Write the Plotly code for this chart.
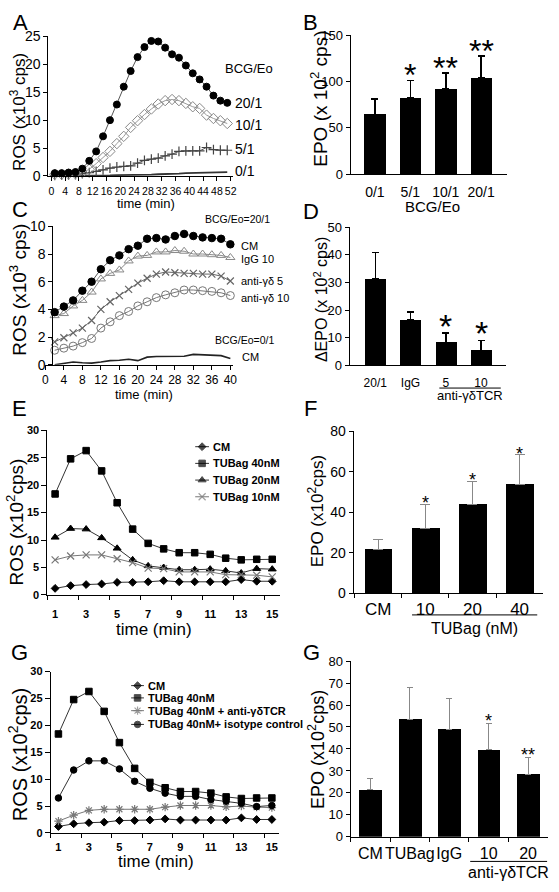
import plotly.graph_objects as go

W, H = 559, 892
ARIAL = "Liberation Sans, Arial, Helvetica, sans-serif"
NARROW = "Liberation Sans Narrow, Arial Narrow, Liberation Sans, sans-serif"

# ---------------- Panel A : ROS kinetics, BCG/Eo ratios ----------------
a_time = [1, 3, 5, 7, 9, 11, 13, 15, 17, 19, 21, 23, 25, 27, 29, 31, 33, 35, 37, 39, 41, 43, 45, 47, 49, 51]
a_ratio_20 = [0.5, 0.5, 0.6, 0.7, 1.3, 2.7, 4.4, 7.1, 10.0, 12.8, 16.0, 18.8, 21.3, 23.1, 24.2, 24.1,
              23.0, 21.8, 21.2, 19.8, 18.4, 17.3, 16.0, 14.4, 13.5, 13.1]
a_ratio_10 = [0.3, 0.3, 0.35, 0.4, 0.6, 1.2, 2.2, 3.3, 4.4, 5.8, 7.1, 8.7, 9.9, 11.0, 12.0, 12.9,
              13.5, 13.7, 13.5, 13.0, 12.4, 12.1, 10.9, 10.3, 9.9, 9.4]
a_ratio_5 = [0.1, 0.15, 0.2, 0.25, 0.4, 0.6, 0.8, 1.1, 1.4, 1.6, 1.7, 1.8, 2.3, 2.8, 3.0, 3.2,
             3.6, 3.9, 4.4, 4.5, 4.5, 4.5, 5.1, 4.7, 4.6, 4.6]
a_ratio_0 = [0.0, 0.0, 0.0, 0.0, 0.0, 0.0, 0.05, 0.1, 0.1, 0.15, 0.15, 0.2, 0.2, 0.25, 0.25, 0.3,
             0.3, 0.35, 0.4, 0.5, 0.55, 0.6, 0.6, 0.65, 0.7, 0.7]
a_labels = ["20/1", "10/1", "5/1", "0/1"]
a_xticks = [0, 4, 8, 12, 16, 20, 24, 28, 32, 36, 40, 44, 48, 52]
a_yticks = [0, 5, 10, 15, 20, 25]

# ---------------- Panel B : EPO vs BCG/Eo ----------------
b_cats = ["0/1", "5/1", "10/1", "20/1"]
b_vals = [64.6, 82.2, 91.8, 104.1]
b_err = [16.6, 19.1, 17.6, 23.7]
b_stars = ["", "*", "**", "**"]
b_yticks = [0, 50, 100, 150]

# ---------------- Panel C : ROS with anti-gd TCR ----------------
c_time = [2, 4, 6, 8, 10, 12, 14, 16, 18, 20, 22, 24, 26, 28, 30, 32, 34, 36, 38, 40]
c_cm = [3.8, 4.2, 4.65, 5.35, 6.0, 6.9, 7.55, 7.9, 8.35, 8.6, 9.1, 9.15, 9.05, 9.3, 9.45, 9.3, 9.2, 9.15, 9.1, 8.7]
c_igg = [3.55, 3.7, 4.25, 4.65, 5.25, 6.2, 6.6, 6.85, 7.5, 7.85, 7.9, 8.15, 8.15, 8.25, 8.2, 8.0, 8.0, 7.95, 7.9, 7.75]
c_anti5 = [1.65, 1.95, 2.3, 2.65, 3.2, 4.0, 4.55, 5.0, 5.45, 5.9, 6.25, 6.55, 6.7, 6.65, 6.6, 6.6, 6.55, 6.55, 6.4, 6.05]
c_anti10 = [1.05, 1.2, 1.35, 1.6, 1.9, 2.65, 3.1, 3.55, 3.85, 4.25, 4.55, 4.85, 5.05, 5.2, 5.4, 5.4, 5.35, 5.3, 5.2, 5.0]
c_cm0 = [0.0, 0.1, 0.2, 0.15, 0.12, 0.2, 0.3, 0.33, 0.4, 0.3, 0.55, 0.6, 0.6, 0.6, 0.62, 0.75, 0.72, 0.66, 0.66, 0.45]
c_labels = ["CM", "IgG 10", "anti-\u03b3\u03b4 5", "anti-\u03b3\u03b4 10", "CM"]
c_xticks = [0, 4, 8, 12, 16, 20, 24, 28, 32, 36, 40]
c_yticks = [0, 2, 4, 6, 8, 10]

# ---------------- Panel D : delta EPO ----------------
d_cats = ["20/1", "IgG", "5", "10"]
d_vals = [31.3, 16.4, 8.3, 5.4]
d_err = [9.5, 3.0, 3.5, 3.7]
d_stars = ["", "", "*", "*"]
d_yticks = [0, 10, 20, 30, 40, 50]

# ---------------- Panel E : ROS with TUBag ----------------
e_time = [1, 2, 3, 4, 5, 6, 7, 8, 9, 10, 11, 12, 13, 14, 15]
e_cm = [1.2, 1.7, 1.9, 2.0, 2.3, 2.3, 2.4, 2.6, 2.4, 2.4, 2.4, 2.4, 2.8, 2.5, 2.5]
e_tub40 = [18.4, 24.8, 26.3, 22.6, 16.8, 12.0, 9.4, 8.4, 7.7, 7.7, 7.4, 6.7, 6.4, 6.5, 6.5]
e_tub20 = [10.5, 12.1, 12.0, 10.4, 8.5, 6.4, 5.3, 5.0, 4.6, 4.6, 4.7, 4.4, 4.0, 4.8, 4.7]
e_tub10 = [6.4, 7.1, 7.3, 7.3, 6.6, 5.9, 4.9, 4.8, 4.2, 4.2, 4.2, 3.7, 3.7, 3.6, 3.3]
e_names = ["CM", "TUBag 40nM", "TUBag 20nM", "TUBag 10nM"]
e_xticks = [1, 3, 5, 7, 9, 11, 13, 15]
e_yticks = [0, 5, 10, 15, 20, 25, 30]

# ---------------- Panel F : EPO with TUBag ----------------
f_cats = ["CM", "10", "20", "40"]
f_vals = [21.5, 32.0, 43.9, 53.6]
f_err = [5.3, 11.9, 11.5, 14.7]
f_stars = ["", "*", "*", "*"]
f_yticks = [0, 20, 40, 60, 80]

# ---------------- Panel G (left) : ROS, TUBag + antibodies ----------------
g_time = [1, 2, 3, 4, 5, 6, 7, 8, 9, 10, 11, 12, 13, 14, 15]
g_cm = [1.2, 1.7, 1.9, 2.0, 2.3, 2.3, 2.4, 2.6, 2.4, 2.4, 2.4, 2.4, 2.8, 2.5, 2.5]
g_tub40 = [18.4, 24.8, 26.3, 22.6, 16.8, 12.0, 9.4, 8.4, 7.7, 7.7, 7.4, 6.7, 6.4, 6.5, 6.5]
g_anti = [2.2, 3.3, 4.2, 4.4, 4.4, 4.4, 4.4, 4.8, 5.1, 5.1, 5.1, 4.85, 5.0, 4.8, 4.7]
g_iso = [6.5, 11.7, 13.4, 13.4, 11.9, 9.6, 8.3, 7.4, 6.8, 6.8, 6.2, 5.9, 5.5, 4.9, 5.1]
g_names = ["CM", "TUBag 40nM", "TUBag 40nM + anti-\u03b3\u03b4TCR", "TUBag 40nM+ isotype control"]

# ---------------- Panel G (right) : EPO, TUBag + antibodies ----------------
h_cats = ["CM", "TUBag", "IgG", "10", "20"]
h_vals = [21.5, 53.5, 49.0, 39.6, 28.6]
h_err = [5.2, 14.3, 13.9, 11.8, 7.5]
h_stars = ["", "", "", "*", "**"]
h_yticks = [0, 10, 20, 30, 40, 50, 60, 70, 80]


def fx(p):
    return p / W


def fy(p):
    return 1 - p / H


fig = go.Figure()


def ax_kw(**kw):
    d = dict(showline=True, linecolor="black", linewidth=1, showgrid=False, zeroline=False,
             ticks="outside", ticklen=4, tickcolor="black", tickwidth=1, fixedrange=True,
             tickangle=0)
    d.update(kw)
    return d


def series(x, y, ax, color="#444", lw=1, symbol=None, size=7, mcolor="black", mlw=1):
    mode = "lines" if symbol is None else "lines+markers"
    marker = None
    if symbol is not None:
        marker = dict(symbol=symbol, size=size, color=mcolor, line=dict(color=mcolor, width=mlw))
    fig.add_trace(go.Scatter(x=x, y=y, mode=mode, line=dict(color=color, width=lw),
                             marker=marker, xaxis="x" + ax, yaxis="y" + ax,
                             showlegend=False, cliponaxis=False, hoverinfo="skip"))


def bars(cats, vals, errs, ax, width, ecol, eth, ew):
    fig.add_trace(go.Bar(x=cats, y=vals, width=width,
                         marker=dict(color="black", line=dict(width=0)),
                         error_y=dict(type="data", symmetric=False, array=errs,
                                      arrayminus=[0] * len(errs), color=ecol,
                                      thickness=eth, width=ew),
                         xaxis="x" + ax, yaxis="y" + ax, showlegend=False, hoverinfo="skip"))


# ---- A traces
series(a_time, a_ratio_0, "", color="#333", lw=1.8)
series(a_time, a_ratio_5, "", color="#555", lw=1, symbol="cross-thin-open", size=7, mcolor="#444", mlw=1.2)
series(a_time, a_ratio_10, "", color="#999", lw=1, symbol="diamond-open", size=8, mcolor="#888", mlw=1)
series(a_time, a_ratio_20, "", color="#555", lw=1, symbol="circle", size=7, mcolor="black")

# ---- B
bars(b_cats, b_vals, b_err, "2", 0.61, "black", 1.5, 3.5)

# ---- C
series(c_time, c_cm0, "3", color="#222", lw=1.6)
series(c_time, c_anti10, "3", color="#777", lw=1, symbol="circle-open", size=8, mcolor="#777", mlw=1)
series(c_time, c_anti5, "3", color="#666", lw=1, symbol="x-thin-open", size=7, mcolor="#666", mlw=1.2)
series(c_time, c_igg, "3", color="#888", lw=1, symbol="triangle-up-open", size=8, mcolor="#888", mlw=1)
series(c_time, c_cm, "3", color="#555", lw=1, symbol="circle", size=7.5, mcolor="black")

# ---- D
bars(d_cats, d_vals, d_err, "4", 0.6, "black", 1.5, 3.5)

# ---- E
e_styles = [dict(symbol="diamond", size=6, mcolor="black", color="#333"),
            dict(symbol="square", size=6.5, mcolor="black", color="#333"),
            dict(symbol="triangle-up", size=7, mcolor="black", color="#333"),
            dict(symbol="x-thin-open", size=7, mcolor="#777", color="#777", mlw=1.2)]
for ys, st in zip([e_cm, e_tub40, e_tub20, e_tub10], e_styles):
    series(e_time, ys, "5", lw=1, **st)

# ---- F
bars(f_cats, f_vals, f_err, "6", 0.59, "#888", 1, 5)

# ---- G left
g_styles = [dict(symbol="diamond", size=6, mcolor="black", color="#333"),
            dict(symbol="square", size=6.5, mcolor="black", color="#333"),
            dict(symbol="asterisk-open", size=7, mcolor="#777", color="#777", mlw=1.2),
            dict(symbol="circle", size=6.5, mcolor="black", color="#333")]
for ys, st in zip([g_cm, g_tub40, g_anti, g_iso], g_styles):
    series(g_time, ys, "7", lw=1, **st)

# ---- G right
bars(h_cats, h_vals, h_err, "8", 0.58, "#888", 1, 3)


# ---- legend keys drawn on a pixel overlay (x9/y9)
def legend_keys(styles, x0, x1, ys):
    for st, yy in zip(styles, ys):
        fig.add_trace(go.Scatter(
            x=[x0, (x0 + x1) / 2, x1], y=[yy, yy, yy], mode="lines+markers",
            line=dict(color=st["color"], width=1),
            marker=dict(symbol=st["symbol"], size=[0, st["size"], 0], color=st["mcolor"],
                        line=dict(color=st["mcolor"], width=st.get("mlw", 1))),
            xaxis="x9", yaxis="y9", showlegend=False, hoverinfo="skip", cliponaxis=False))


e_leg_y = [446.7, 463.7, 480.7, 497.7]
g_leg_y = [690, 702.5, 715.5, 729.5]
legend_keys(e_styles, 195, 209, e_leg_y)
legend_keys(g_styles, 130, 143, g_leg_y)

ann = []


def text(t, x, y, size, xa="center", ya="middle", angle=0, family=ARIAL, weight="normal",
         xref="paper", yref="paper", yshift=0):
    ann.append(dict(text=t, x=x, y=y, xref=xref, yref=yref, xanchor=xa, yanchor=ya,
                    textangle=angle, showarrow=False, yshift=yshift,
                    font=dict(family=family, size=size, color="black", weight=weight)))


def ptext(t, px_, py_, size, **kw):
    text(t, fx(px_), fy(py_), size, **kw)


# panel letters
for letter, lx, ly in [("A", 18, 15), ("B", 312, 15), ("C", 17, 205), ("D", 312, 207),
                       ("E", 17, 408), ("F", 312, 408), ("G", 17, 656), ("G", 313, 656)]:
    ptext(letter, lx, ly, 22)

# axis titles
ptext("ROS (x10<sup>3</sup> cps)", 15, 106, 17, angle=-90)
ptext("time (min)", 145, 199, 13)
ptext("EPO (x 10<sup>2</sup> cps)", 321, 92, 19, angle=-90)
ptext("BCG/Eo", 436, 202, 15)
ptext("ROS (x10<sup>3</sup> cps)", 15, 287, 19, angle=-90)
ptext("time (min)", 143, 394, 13)
ptext("\u0394EPO (x 10<sup>2</sup> cps)", 322, 297, 16, angle=-90)
ptext("anti-\u03b3\u03b4TCR", 474, 395, 13)
ptext("ROS (x10<sup>2</sup>cps)", 12, 523, 19, angle=-90)
ptext("time (min)", 153, 633, 17)
ptext("EPO (x10<sup>2</sup>cps)", 317, 512, 17, angle=-90)
ptext("TUBag (nM)", 478, 632, 16)
ptext("ROS (x10<sup>2</sup>cps)", 15, 760, 20, angle=-90)
ptext("time (min)", 155, 869, 17)
ptext("EPO (x10<sup>2</sup>cps)", 318, 755, 18, angle=-90)
ptext("anti-\u03b3\u03b4TCR", 513, 880, 16)

# series labels, panel A
ptext("BCG/Eo", 223, 62, 13, xa="left", family=NARROW)
for lab, ly in zip(a_labels, [97, 119, 144, 166]):
    ptext(lab, 233, ly, 14, xa="left")

# series labels, panel C
ptext("BCG/Eo=20/1", 203, 215, 10.5, xa="left", family=NARROW)
for lab, ly in zip(c_labels[:4], [242, 256, 278, 295]):
    ptext(lab, 239, ly, 11, xa="left")
ptext("BCG/Eo=0/1", 213, 338, 10.5, xa="left", family=NARROW)
ptext(c_labels[4], 240, 355, 11, xa="left")

# legend texts
for nm, ly in zip(e_names, e_leg_y):
    ptext(nm, 211, ly, 11, xa="left", weight="bold")
for nm, ly in zip(g_names, g_leg_y):
    ptext(nm, 145, ly, 11, xa="left", weight="bold")

# significance stars (x given as category index)
for cats, vals, errs, stars, ax, size, shift in [
        (b_cats, b_vals, b_err, b_stars, "2", 32, 5),
        (d_cats, d_vals, d_err, d_stars, "4", 34, 7),
        (f_cats, f_vals, f_err, f_stars, "6", 18, 1),
        (h_cats, h_vals, h_err, h_stars, "8", 18, 3)]:
    for i, (v, e, s) in enumerate(zip(vals, errs, stars)):
        if s:
            text(s, i, v + e, size, xref="x" + ax, yref="y" + ax, yshift=shift)

shapes = [
    dict(type="line", xref="paper", yref="paper", x0=fx(442.7), x1=fx(505), y0=fy(387), y1=fy(387),
         line=dict(color="black", width=1)),
    dict(type="line", xref="paper", yref="paper", x0=fx(415), x1=fx(542), y0=fy(618), y1=fy(618),
         line=dict(color="black", width=1)),
    dict(type="line", xref="paper", yref="paper", x0=fx(474), x1=fx(552), y0=fy(869), y1=fy(869),
         line=dict(color="black", width=1)),
]


def tf(s, fam=ARIAL, w="normal"):
    return dict(family=fam, size=s, color="black", weight=w)


layout = dict(
    width=W, height=H, autosize=False, margin=dict(l=0, r=0, t=0, b=0),
    paper_bgcolor="white", plot_bgcolor="rgba(0,0,0,0)", showlegend=False,
    annotations=ann, shapes=shapes, bargap=0,
    # A
    xaxis=ax_kw(domain=[fx(46), fx(233)], range=[-0.857, 52.57], tickvals=a_xticks,
                tickfont=tf(10.5), anchor="y", ticklabelstandoff=1),
    yaxis=ax_kw(domain=[fy(171), fy(29)], range=[0, 25], tickvals=a_yticks,
                tickfont=tf(14), anchor="x"),
    # B
    xaxis2=ax_kw(domain=[fx(352.7), fx(511.7)], range=[-0.685, 3.74], type="category",
                 ticks="", tickfont=tf(14), anchor="y2", ticklabelstandoff=5),
    yaxis2=ax_kw(domain=[fy(169.3), fy(27.7)], range=[0, 150], tickvals=b_yticks,
                 tickfont=tf(13), anchor="x2"),
    # C
    xaxis3=ax_kw(domain=[fx(43), fx(233)], range=[0, 40.5], tickvals=c_xticks,
                 tickfont=tf(12), anchor="y3"),
    yaxis3=ax_kw(domain=[fy(363.3), fy(222.3)], range=[0, 10], tickvals=c_yticks,
                 tickfont=tf(14), anchor="free", position=fx(50)),
    # D
    xaxis4=ax_kw(domain=[fx(351.7), fx(510)], range=[-0.726, 3.7], type="category",
                 ticks="", tickfont=tf(12), anchor="y4", ticklabelstandoff=6),
    yaxis4=ax_kw(domain=[fy(364), fy(223.3)], range=[0, 50], tickvals=d_yticks,
                 tickfont=tf(13), anchor="x4"),
    # E
    xaxis5=ax_kw(domain=[fx(45), fx(281)], range=[0.5, 15.5], tickvals=e_xticks, ticks="",
                 tickfont=tf(11, ARIAL, "bold"), anchor="y5", ticklabelstandoff=9,
                 minor=dict(ticks="outside", tick0=0.5, dtick=2, ticklen=4, tickcolor="black")),
    yaxis5=ax_kw(domain=[fy(597.7), fy(430)], range=[0, 30], tickvals=e_yticks,
                 tickfont=tf(11, ARIAL, "bold"), anchor="x5", ticklen=5),
    # F
    xaxis6=ax_kw(domain=[fx(355.7), fx(548)], range=[-0.52, 3.5], type="category",
                 tickson="boundaries", tickfont=tf(17), anchor="y6", ticklabelstandoff=0),
    yaxis6=ax_kw(domain=[fy(596), fy(431)], range=[0, 80], tickvals=f_yticks,
                 tickfont=tf(14), anchor="x6"),
    # G left
    xaxis7=ax_kw(domain=[fx(48.5), fx(280.5)], range=[0.5, 15.5], tickvals=e_xticks, ticks="",
                 tickfont=tf(11, ARIAL, "bold"), anchor="y7", ticklabelstandoff=4,
                 minor=dict(ticks="outside", tick0=0.5, dtick=2, ticklen=4, tickcolor="black")),
    yaxis7=ax_kw(domain=[fy(840), fy(675.7)], range=[0, 30], tickvals=e_yticks,
                 tickfont=tf(11, ARIAL, "bold"), anchor="x7", ticklen=5),
    # G right
    xaxis8=ax_kw(domain=[fx(352.7), fx(552.7)], range=[-0.5, 4.5], type="category",
                 tickson="boundaries", tickfont=tf(16), anchor="y8", ticklabelstandoff=2),
    yaxis8=ax_kw(domain=[fy(844), fy(665)], range=[0, 80], tickvals=h_yticks,
                 tickfont=tf(13), anchor="x8"),
    # pixel overlay for legend keys
    xaxis9=dict(domain=[0, 1], range=[0, W], visible=False, fixedrange=True, anchor="y9"),
    yaxis9=dict(domain=[0, 1], range=[H, 0], visible=False, fixedrange=True, anchor="x9"),
)
fig.update_layout(**layout)
fig.write_html("out.html", config=dict(displayModeBar=False),
               post_script="document.body.style.margin='0';document.body.style.overflow='hidden';")
